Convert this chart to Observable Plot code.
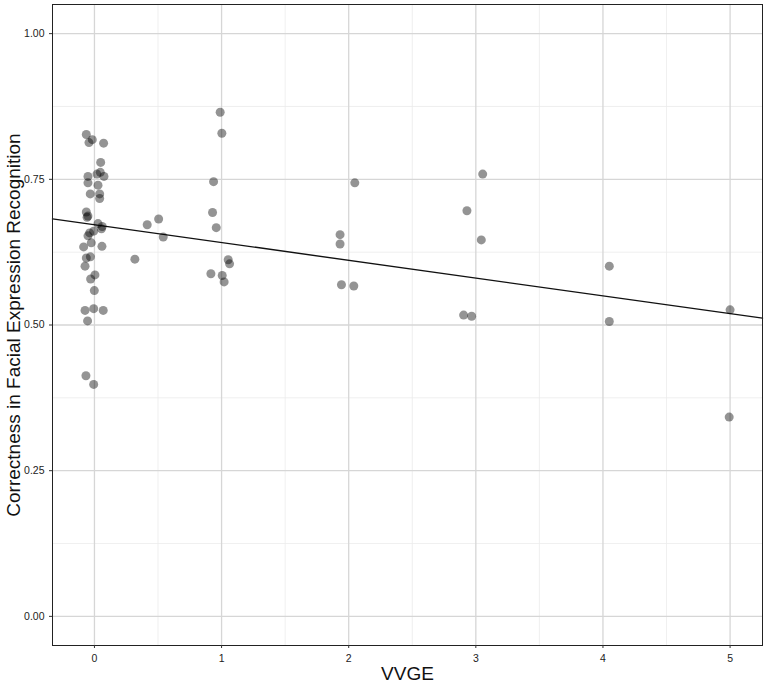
<!DOCTYPE html>
<html><head><meta charset="utf-8">
<script src="https://cdn.jsdelivr.net/npm/d3@7"></script>
<script src="https://cdn.jsdelivr.net/npm/@observablehq/plot@0.6"></script>
<style>
body{margin:0;background:#fff;}
#chart svg{display:block;}
</style>
</head><body><div id="chart"></div>
<script>
// Jittered VVGE values (x) and correctness (y)
const vvge = [
 -0.064,-0.017,-0.043,0.072,0.049,-0.051,0.020,0.046,0.075,-0.051,
  0.028,-0.033,0.041,0.041,-0.064,-0.051,-0.058,0.028,0.061,0.055,
 -0.038,-0.051,-0.006,-0.025,-0.085,0.059,-0.064,-0.032,-0.074,0.004,
 -0.030,-0.001,-0.074,-0.006,0.069,-0.054,-0.067,-0.006,
  0.318,0.415,0.505,0.541,
  0.989,1.002,0.937,0.929,0.958,1.052,1.063,0.916,1.005,1.020,
  2.048,1.932,1.932,1.943,2.040,
  3.054,2.930,3.043,2.904,2.967,
  4.050,4.050,
  5.000,4.993
];
const correctness = [
  0.827,0.818,0.813,0.812,0.779,0.755,0.759,0.762,0.755,0.744,
  0.740,0.725,0.725,0.717,0.694,0.687,0.685,0.674,0.669,0.665,
  0.658,0.653,0.661,0.641,0.634,0.635,0.615,0.617,0.601,0.586,
  0.579,0.559,0.525,0.528,0.525,0.507,0.413,0.398,
  0.613,0.672,0.682,0.651,
  0.865,0.829,0.746,0.693,0.667,0.612,0.605,0.588,0.585,0.574,
  0.744,0.655,0.639,0.569,0.567,
  0.759,0.696,0.646,0.517,0.515,
  0.601,0.506,
  0.526,0.342
];
const xTicks = [0, 1, 2, 3, 4, 5];
const yTicks = [0, 0.25, 0.5, 0.75, 1];
const xMinor = [0.5, 1.5, 2.5, 3.5, 4.5];
const yMinor = [0.125, 0.375, 0.625, 0.875];
const fitIntercept = 0.672;
const fitSlope = -0.0305;
const xDomain = [-0.33, 5.255];
const yDomain = [-0.05, 1.05];
const xTitle = "VVGE";
const yTitle = "Correctness in Facial Expression Recognition";

const points = vvge.map((x, i) => ({x, y: correctness[i]}));
const fitLine = xDomain.map(x => ({x, y: fitIntercept + fitSlope * x}));

const font = "'Liberation Sans', Arial, Helvetica, sans-serif";

const chart = Plot.plot({
  width: 767,
  height: 683,
  marginLeft: 52,
  marginRight: 5,
  marginTop: 4,
  marginBottom: 38,
  style: {fontFamily: font, background: "#fff"},
  x: {domain: xDomain},
  y: {domain: yDomain},
  marks: [
    Plot.ruleX(xMinor, {stroke: "#ebebeb", strokeWidth: 0.8}),
    Plot.ruleY(yMinor, {stroke: "#ebebeb", strokeWidth: 0.8}),
    Plot.ruleX(xTicks, {stroke: "#d6d6d6", strokeWidth: 1.3}),
    Plot.ruleY(yTicks, {stroke: "#d6d6d6", strokeWidth: 1.3}),
    Plot.line(fitLine, {x: "x", y: "y", stroke: "#111", strokeWidth: 1.4}),
    Plot.dot(points, {x: "x", y: "y", r: 4.5, fill: "black", fillOpacity: 0.42, stroke: "none"}),
    Plot.frame({stroke: "#222", strokeWidth: 1}),
    Plot.axisX({ticks: xTicks, tickFormat: d3.format("d"), tickSize: 3, tickPadding: 6, fontSize: 10.5, fill: "#222", stroke: "#333", label: null}),
    Plot.axisY({ticks: yTicks, tickFormat: d3.format(".2f"), tickSize: 3, tickPadding: 5, fontSize: 10.5, fill: "#222", stroke: "#333", label: null}),
    Plot.text([xTitle], {frameAnchor: "bottom", dy: 28, fontSize: 19, fill: "#111", lineAnchor: "middle"}),
    Plot.text([yTitle], {frameAnchor: "left", dx: -39, rotate: -90, fontSize: 19, fill: "#111", textAnchor: "middle", lineAnchor: "middle"})
  ]
});
document.getElementById("chart").appendChild(chart);
</script>
</body></html>
